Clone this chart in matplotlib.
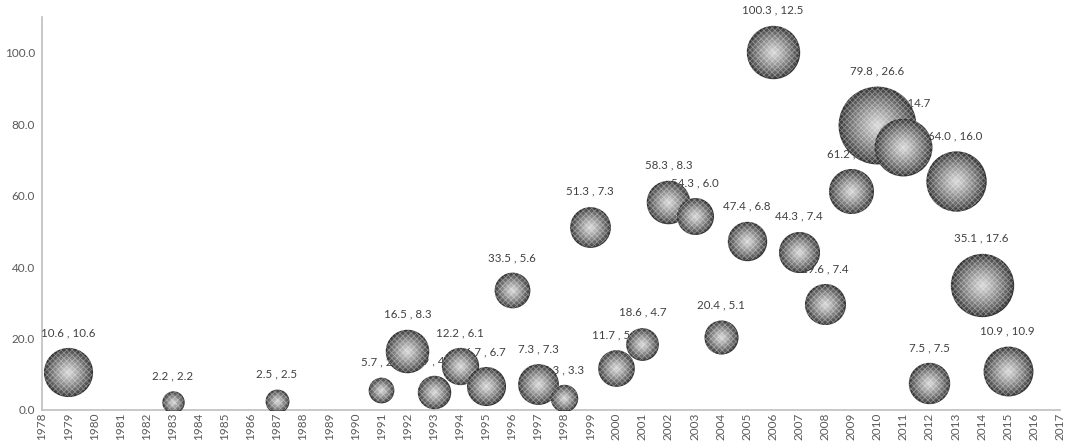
import matplotlib
matplotlib.use("Agg")
import matplotlib.pyplot as plt
import numpy as np

years = [1979, 1983, 1987, 1991, 1992, 1993, 1994, 1995, 1996, 1997, 1998, 1999,
         2000, 2001, 2002, 2003, 2004, 2005, 2006, 2007, 2008, 2009, 2010, 2011,
         2012, 2013, 2014, 2015]
values = [10.6, 2.2, 2.5, 5.7, 16.5, 4.9, 12.2, 6.7, 33.5, 7.3, 3.3, 51.3,
          11.7, 18.6, 58.3, 54.3, 20.4, 47.4, 100.3, 44.3, 29.6, 61.2, 79.8, 73.7,
          7.5, 64.0, 35.1, 10.9]
sizes = [10.6, 2.2, 2.5, 2.9, 8.3, 4.9, 6.1, 6.7, 5.6, 7.3, 3.3, 7.3,
         5.9, 4.7, 8.3, 6.0, 5.1, 6.8, 12.5, 7.4, 7.4, 8.9, 26.6, 14.7,
         7.5, 16.0, 17.6, 10.9]
x_ticks = list(range(1978, 2018))
y_ticks = [0, 20, 40, 60, 80, 100]

plt.rcParams['font.family'] = ['Lato', 'DejaVu Sans']
plt.rcParams['hatch.linewidth'] = 0.6

fig = plt.figure(figsize=(10.67, 4.43), dpi=100)
ax = fig.add_axes([0.0394, 0.0745, 0.954, 0.887])

DPT = 10.87  # diameter in points per sqrt(size)
N = 18
dark = np.array([0.20, 0.20, 0.20])
light = np.array([0.84, 0.84, 0.84])

for i, (x, y, s) in enumerate(zip(years, values, sizes)):
    d = DPT * np.sqrt(s)
    z = 10 + i
    for k in range(N):
        f = 1 - k / N
        t = (k / (N - 1)) ** 0.8
        col = dark * (1 - t) + light * t
        ax.scatter([x], [y], s=(d * f) ** 2, color=col, linewidths=0, zorder=z)
    ax.scatter([x], [y], s=d ** 2, facecolor='none', edgecolor=(1, 1, 1, 0.35),
               hatch='xxxxxx', linewidths=0, zorder=z)
    off = (d / 2) + 15 * 0.72
    ax.annotate(f"{y:.1f} , {s:.1f}", (x, y), xytext=(0, off), textcoords='offset points',
                ha='center', va='center', fontsize=8.3, color='#404040', zorder=5)

ax.set_xlim(1978, 2017)
ax.set_ylim(0, 110)
ax.set_xticks(x_ticks)
ax.set_xticklabels([str(v) for v in x_ticks], rotation=90)
ax.set_yticks(y_ticks)
ax.set_yticklabels([f"{v:.1f}" for v in y_ticks])
ax.tick_params(axis='both', colors='#595959', labelsize=8.5, length=0)
ax.tick_params(axis='x', pad=2)
ax.tick_params(axis='y', pad=5)
for side in ['top', 'right']:
    ax.spines[side].set_visible(False)
for side in ['left', 'bottom']:
    ax.spines[side].set_color('#bfbfbf')
    ax.spines[side].set_linewidth(1.2)

fig.savefig("out.png", dpi=100)
